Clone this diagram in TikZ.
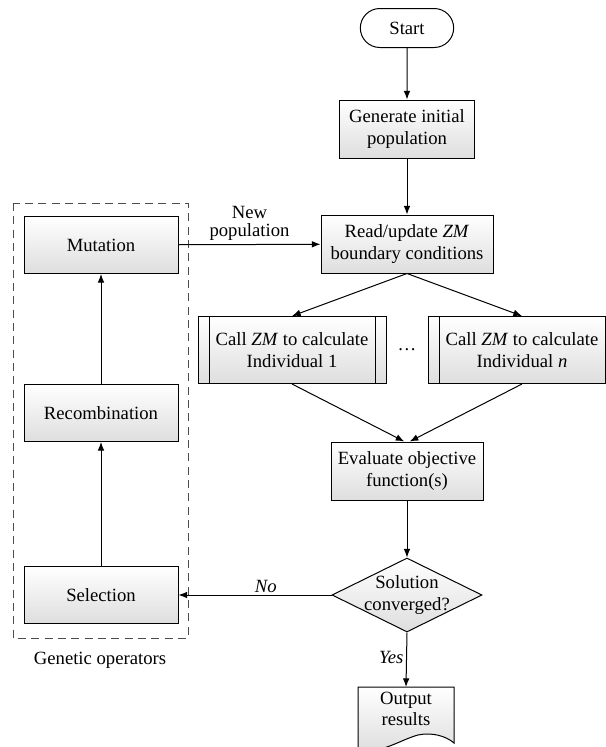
\documentclass[tikz,border=0pt]{standalone}
\usepackage{fontspec}
\setmainfont{Liberation Serif}
\usetikzlibrary{arrows.meta,shapes.geometric,shapes.misc}

\tikzset{
	txt/.style={font=\fontsize{14}{16}\selectfont, align=center},
	shadefill/.style={top color=white, bottom color=black!13},
	box/.style={txt, shadefill, draw, line width=0.75pt, inner sep=1pt},
	opbox/.style={box, minimum width=115.5pt, minimum height=42.75pt},
	callbox/.style={box, minimum width=141pt, minimum height=50.25pt, path picture={
			\draw[line width=0.75pt] ([xshift=8.25pt]path picture bounding box.north west) -- ([xshift=8.25pt]path picture bounding box.south west);
			\draw[line width=0.75pt] ([xshift=-8.25pt]path picture bounding box.north east) -- ([xshift=-8.25pt]path picture bounding box.south east);}},
	arr/.style={line width=0.75pt, -{Latex[length=6.5pt,width=5pt]}},
}

\begin{document}
\begin{tikzpicture}[x=0.75pt, y=-0.75pt]
		%%%%% START %%%%%
		
		\useasboundingbox (0, 0) rectangle (606, 747);
		
		\node[txt, draw, fill=white, rounded rectangle, line width=0.75pt, minimum width=72pt, minimum height=29.25pt, inner sep=1pt] (start) at (407, 28) {Start};
		\node[box, minimum width=101.25pt, minimum height=43.5pt] (gen) at (407, 129) {Generate initial\\population};
		\node[box, minimum width=129pt, minimum height=43.5pt] (read) at (407, 244) {Read/update \textit{ZM}\\boundary conditions};
		
		\node[callbox] (call1) at (292, 350) {Call \textit{ZM} to calculate\\Individual 1};
		\node[callbox] (calln) at (522, 350) {Call \textit{ZM} to calculate\\Individual \textit{n}};
		\node[txt] (dots) at (407, 350) {\ldots};
		
		\node[box, minimum width=114pt, minimum height=43.5pt] (eval) at (407, 471) {Evaluate objective\\function(s)};
		
		\node[draw, diamond, shadefill, line width=0.75pt, minimum width=112.5pt, minimum height=55.5pt, inner sep=0pt] (conv) at (407, 595) {};
		\node[txt] (convtext) at (407, 595) {Solution\\converged?};
		
		% document shape, cut by the lower edge
		\draw[shadefill, line width=0.75pt] (358, 687) -- (454, 687) -- (454, 743) .. controls (446, 736) and (432, 732) .. (418, 735) .. controls (400, 740) and (385, 752) .. (358, 752) -- cycle;
		\coordinate (outtop) at (406, 687);
		\node[txt] (out) at (406, 709) {Output\\results};
		
		% genetic operators
		\draw[dashed, dash pattern=on 6pt off 4pt, line width=0.75pt, color=black!70] (13, 203) rectangle (188, 638);
		\node[opbox] (mut) at (101, 245) {Mutation};
		\node[opbox] (recomb) at (101, 413) {Recombination};
		\node[opbox] (sel) at (101, 595) {Selection};
		\node[txt] (genop) at (100, 660) {Genetic operators};
		
		\draw[arr] (start) -- (gen);
		\draw[arr] (gen) -- (read);
		\draw[arr] (read.south) -- (call1.north);
		\draw[arr] (read.south) -- (calln.north);
		\draw[arr] (call1.south) -- ([xshift=-2pt]eval.north);
		\draw[arr] (calln.south) -- ([xshift=2pt]eval.north);
		\draw[arr] (eval) -- (conv);
		\draw[arr] (conv.west) -- node[txt, above, pos=0.43, inner sep=1pt] {\textit{No}} (sel.east);
		\draw[arr] (conv.south) -- node[txt, left, pos=0.45, inner sep=2pt] {\textit{Yes}} (outtop);
		\draw[arr] (sel) -- (recomb);
		\draw[arr] (recomb) -- (mut);
		\draw[arr] (mut) -- node[txt, above, font=\fontsize{14}{13.5}\selectfont, inner sep=3pt] {New\\population} (read);
		
		%%%%% END %%%%%
\end{tikzpicture}
\end{document}
